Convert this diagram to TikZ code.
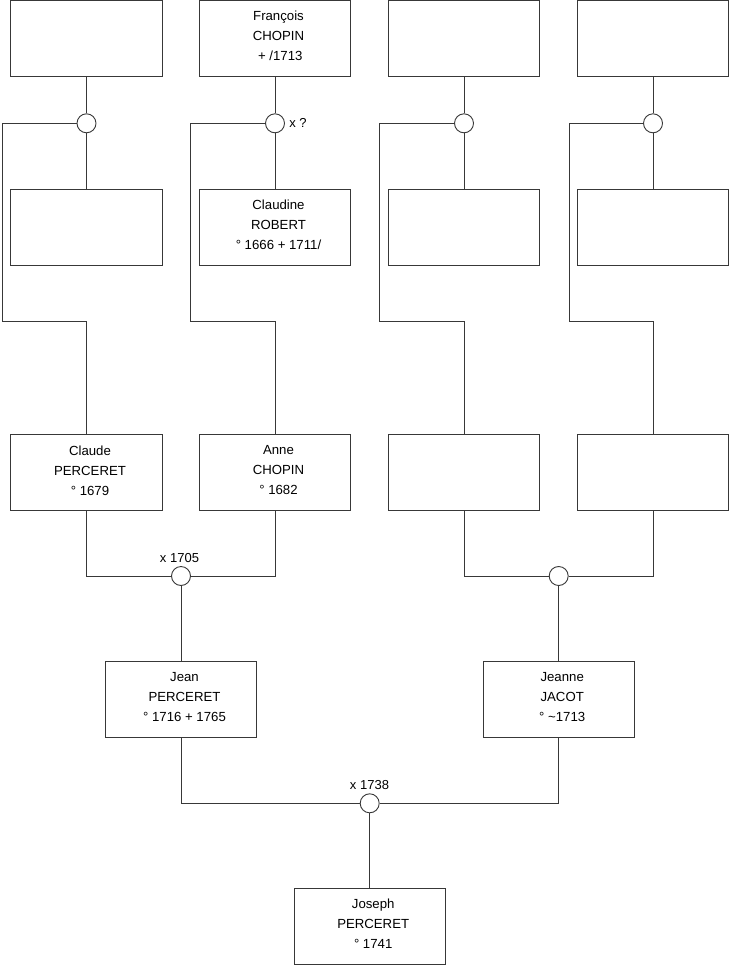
\documentclass[tikz,border=0pt]{standalone}
\usepackage{fontspec}
\setmainfont{Liberation Sans}
\begin{document}
\begin{tikzpicture}[x=1pt,y=-1pt,
  line width=0.9pt, draw=black!78,
  person/.style={draw=black!78, fill=white, rectangle, minimum width=151.5pt, minimum height=76pt, inner sep=0pt},
  pers/.style={person, label={[align=center, font=\fontsize{13.2}{20}\selectfont, xshift=3.5pt, yshift=2.4pt]center:#1}},
  union/.style={draw=black!78, fill=white, circle, minimum size=19pt, inner sep=0pt},
  lbl/.style={font=\fontsize{13}{15}\selectfont, inner sep=0pt}]
\useasboundingbox (0,0) rectangle (740,975);
% top row
\node[person] (t1) at (86.5,38.3) {};
\node[pers={François\\CHOPIN\\\hspace*{3.6pt}+ /1713}] (t2) at (275,38.3) {};
\node[person] (t3) at (464,38.3) {};
\node[person] (t4) at (653,38.3) {};
% marriage circles
\node[union] (m1) at (86.5,123.3) {};
\node[union] (m2) at (275,123.3) {};
\node[union] (m3) at (464,123.3) {};
\node[union] (m4) at (653,123.3) {};
\node[lbl] (q2) at (298,123.3) {x ?};
% second row
\node[person] (s1) at (86.5,227.3) {};
\node[pers={Claudine\\ROBERT\\° 1666 + 1711/}] (s2) at (275,227.3) {};
\node[person] (s3) at (464,227.3) {};
\node[person] (s4) at (653,227.3) {};
% third row
\node[pers={Claude\\PERCERET\\° 1679}] (g1) at (86.5,472.9) {};
\node[pers={Anne\\CHOPIN\\° 1682}] (g2) at (275,472.9) {};
\node[person] (g3) at (464,472.9) {};
\node[person] (g4) at (653,472.9) {};
% turning points of the side lines
\coordinate (L1) at (2.3,321.7);
\coordinate (L2) at (190.5,321.7);
\coordinate (L3) at (379,321.7);
\coordinate (L4) at (569,321.7);
% connectors top
\foreach \i in {1,2,3,4}{
  \draw (t\i) -- (m\i);
  \draw (m\i) -- (s\i);
  \draw (m\i) -- (m\i -| L\i) -- (L\i) -| (g\i.north);
}
% second marriages
\node[union] (n1) at (181,576) {};
\node[union] (n2) at (558.7,576) {};
\node[lbl] (d1) at (179.5,558) {x 1705};
\draw (g1) |- (n1);
\draw (g2) |- (n1);
\draw (g3) |- (n2);
\draw (g4) |- (n2);
% fourth row
\node[pers={Jean\\PERCERET\\° 1716 + 1765}] (p1) at (181,699.8) {};
\node[pers={Jeanne\\JACOT\\° \textasciitilde1713}] (p2) at (558.7,699.8) {};
\draw (n1) -- (p1);
\draw (n2) -- (p2);
% last marriage
\node[union] (n3) at (369.7,803.3) {};
\node[lbl] (d2) at (369.5,785) {x 1738};
\draw (p1) |- (n3);
\draw (p2) |- (n3);
\node[pers={Joseph\\PERCERET\\° 1741}] (c) at (369.7,926.3) {};
\draw (n3) -- (c);
\end{tikzpicture}
\end{document}
